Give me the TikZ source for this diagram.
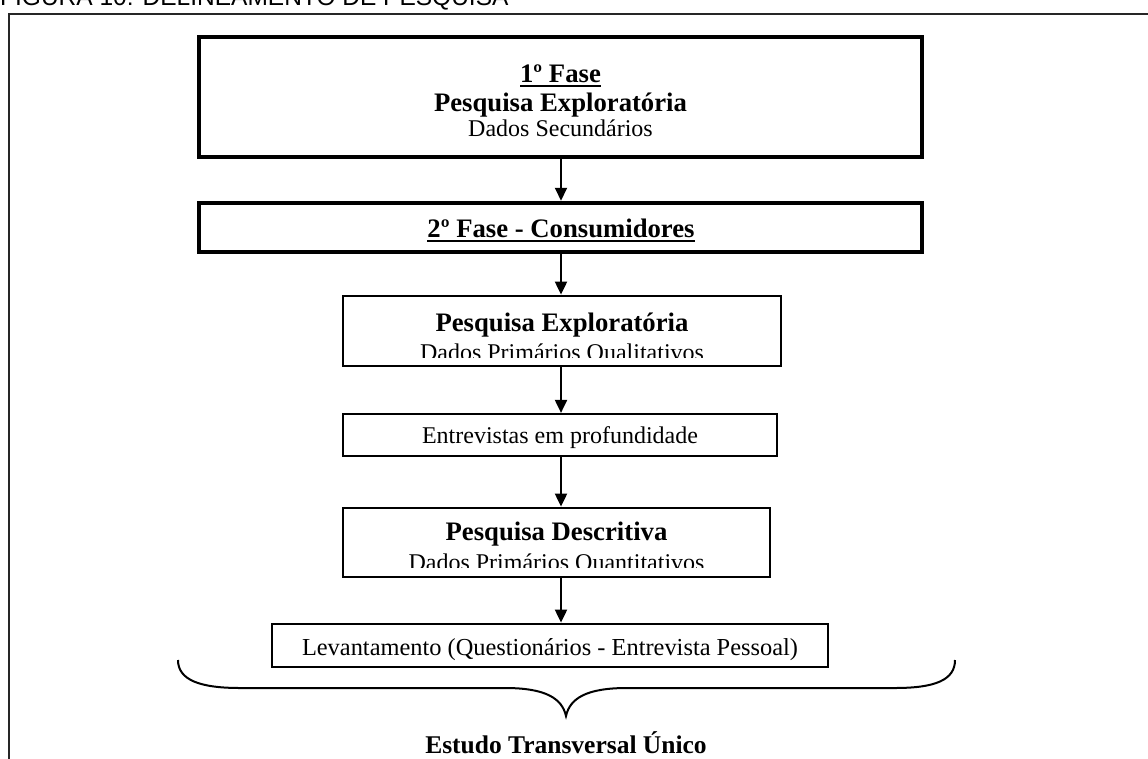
\documentclass[tikz,border=0pt]{standalone}
\usepackage{fontspec}
\setmainfont{Liberation Serif}
\newfontfamily\capfont{Liberation Sans}
\usetikzlibrary{arrows.meta}
\newcommand\fatul[1]{\leavevmode\setbox0=\hbox{#1}\rlap{\rule[-4.5pt]{\wd0}{2pt}}\box0}
\tikzset{
  thickbox/.style={draw=black, line width=4.5pt, fill=white, inner sep=0pt},
  midbox/.style={draw=black, line width=2.8pt, fill=white, inner sep=0pt},
  thinbox/.style={draw=black, line width=2.2pt, fill=white, inner sep=0pt},
  boldtxt/.style={inner sep=0pt, anchor=base, font=\fontsize{26.7}{30}\selectfont\bfseries},
  regtxt/.style={inner sep=0pt, anchor=base, font=\fontsize{24}{28}\selectfont},
  arr/.style={line width=2pt, -{Triangle[width=12pt,length=13pt]}},
}
\begin{document}
\begin{tikzpicture}[x=1pt,y=-1pt]
\useasboundingbox (0,0) rectangle (1148,758);
\clip (0,0) rectangle (1148,758);
% caption (cut off at top)
\node[inner sep=0pt, anchor=base west, font=\capfont\fontsize{24.5}{28}\selectfont] (cap) at (0,5) {FIGURA 10: DELINEAMENTO DE PESQUISA};
% outer frame
\draw[line width=2.2pt, black!85] (9,770) -- (9,14) -- (1160,14);
\coordinate (ax) at (561,0);
% boxes
\node[thickbox, minimum width=723pt, minimum height=120pt] (b1) at (560.5,97) {};
\node[thickbox, minimum width=723pt, minimum height=49pt] (b2) at (560.5,227.5) {};
\node[midbox, minimum width=438pt, minimum height=70pt] (b3) at (562,331) {};
\node[thinbox, minimum width=434pt, minimum height=42pt] (b4) at (560,435) {};
\node[midbox, minimum width=427pt, minimum height=69pt] (b5) at (556.5,542.5) {};
\node[midbox, minimum width=556pt, minimum height=43pt] (b6) at (550,645.5) {};
% texts
\node[boldtxt] (t1a) at (560.5,82) {\fatul{1º Fase}};
\node[boldtxt] (t1b) at (560.5,111) {Pesquisa Exploratória};
\node[regtxt] (t1c) at (560.5,136) {Dados Secundários};
\node[boldtxt] (t2) at (561,237) {\fatul{2º Fase - Consumidores}};
\node[boldtxt] (t3a) at (562,331) {Pesquisa Exploratória};
\begin{scope}
\clip (343,296) rectangle (781,357);
\node[regtxt] (t3b) at (562,360) {Dados Primários Qualitativos};
\end{scope}
\node[regtxt] (t4) at (560,443) {Entrevistas em profundidade};
\node[boldtxt] (t5a) at (556.5,540) {Pesquisa Descritiva};
\begin{scope}
\clip (343,508) rectangle (770,567);
\node[regtxt] (t5b) at (556.5,570) {Dados Primários Quantitativos};
\end{scope}
\node[regtxt, font=\fontsize{24.4}{28}\selectfont] (t6) at (550,655) {Levantamento (Questionários - Entrevista Pessoal)};
% arrows
\draw[arr] (b1.south -| ax) -- (b2.north -| ax);
\draw[arr] (b2.south -| ax) -- (b3.north -| ax);
\draw[arr] (b3.south -| ax) -- (b4.north -| ax);
\draw[arr] (b4.south -| ax) -- (b5.north -| ax);
\draw[arr] (b5.south -| ax) -- (b6.north -| ax);
% brace
\draw[line width=2pt] (178,660) .. controls (178,680) and (200,688) .. (240,688) -- (505,688) .. controls (545,688) and (562,698) .. (566,716) .. controls (570,698) and (587,688) .. (627,688) -- (895,688) .. controls (935,688) and (955,680) .. (955,660);
\node[boldtxt, font=\fontsize{25.5}{30}\selectfont\bfseries] (est) at (566,753) {Estudo Transversal Único};
\end{tikzpicture}
\end{document}
